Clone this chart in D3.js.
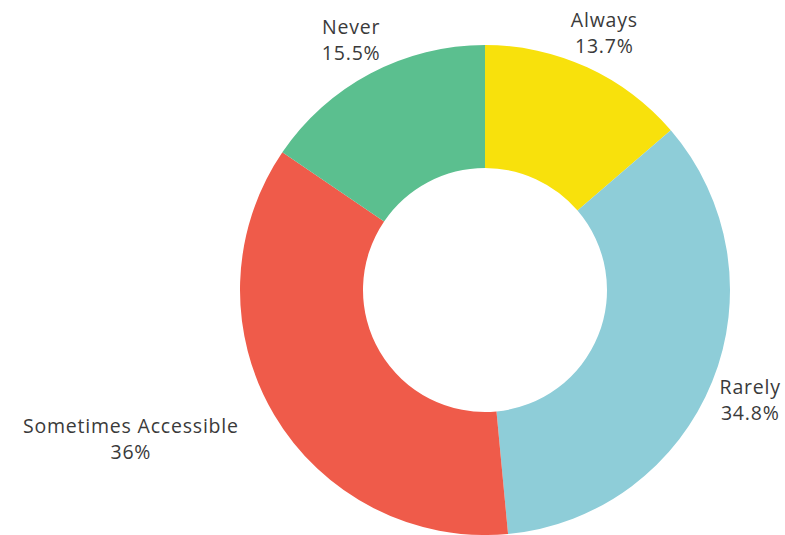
<!DOCTYPE html>
<html><head><meta charset="utf-8">
<script src="https://cdn.jsdelivr.net/npm/d3@7"></script>
<style>body{margin:0;background:#fff}svg{display:block}</style>
</head><body>
<svg id="c" width="785" height="535"></svg>
<script>
const categories = ["Always", "Rarely", "Sometimes Accessible", "Never"];
const values = [13.7, 34.8, 36, 15.5];
const valueLabels = ["13.7%", "34.8%", "36%", "15.5%"];
const colors = ["#F8E10C", "#8ECDD8", "#EF5B4A", "#5BBF8F"];

const W = 785, H = 535;
const cx = 485, cy = 290, rOuter = 245, rInner = 122, rLabel = 286;
const svg = d3.select("#c");
const g = svg.append("g").attr("transform", `translate(${cx},${cy})`);

const data = categories.map((c, i) => ({cat: c, v: values[i], lab: valueLabels[i], col: colors[i]}));
const pie = d3.pie().value(d => d.v).sort(null);
const arc = d3.arc().innerRadius(rInner).outerRadius(rOuter);
const arcs = pie(data);

g.selectAll("path").data(arcs).join("path")
  .attr("d", arc).attr("fill", d => d.data.col);

const fontSize = 19.5, lineH = 26;
arcs.forEach(a => {
  const mid = (a.startAngle + a.endAngle) / 2;
  const x = Math.sin(mid) * rLabel, y = -Math.cos(mid) * rLabel;
  const t = g.append("text")
    .attr("font-family", "'Open Sans', sans-serif")
    .attr("font-size", fontSize)
    .attr("letter-spacing", 0.8)
    .attr("fill", "#3a3a3a")
    .attr("text-anchor", "middle");
  t.append("tspan").attr("x", x).attr("y", y - lineH/2 + 10).text(a.data.cat);
  t.append("tspan").attr("x", x).attr("y", y + lineH/2 + 10).text(a.data.lab);
  // if the text box overlaps the donut, push it to lie on the outer side of the label point
  const bb = t.node().getBBox();
  const near = x < 0 ? bb.x + bb.width : bb.x;
  const ytest = Math.min(Math.abs(bb.y), Math.abs(bb.y + bb.height));
  if (ytest < rOuter) {
    const edge = Math.sqrt(rOuter*rOuter - ytest*ytest);
    if (Math.abs(near) < edge) {
      const w0 = t.select("tspan").node().getComputedTextLength();
      const c = x < 0 ? x - w0/2 : x + w0/2;
      t.selectAll("tspan").attr("x", c);
    }
  }
});
</script>
</body></html>
